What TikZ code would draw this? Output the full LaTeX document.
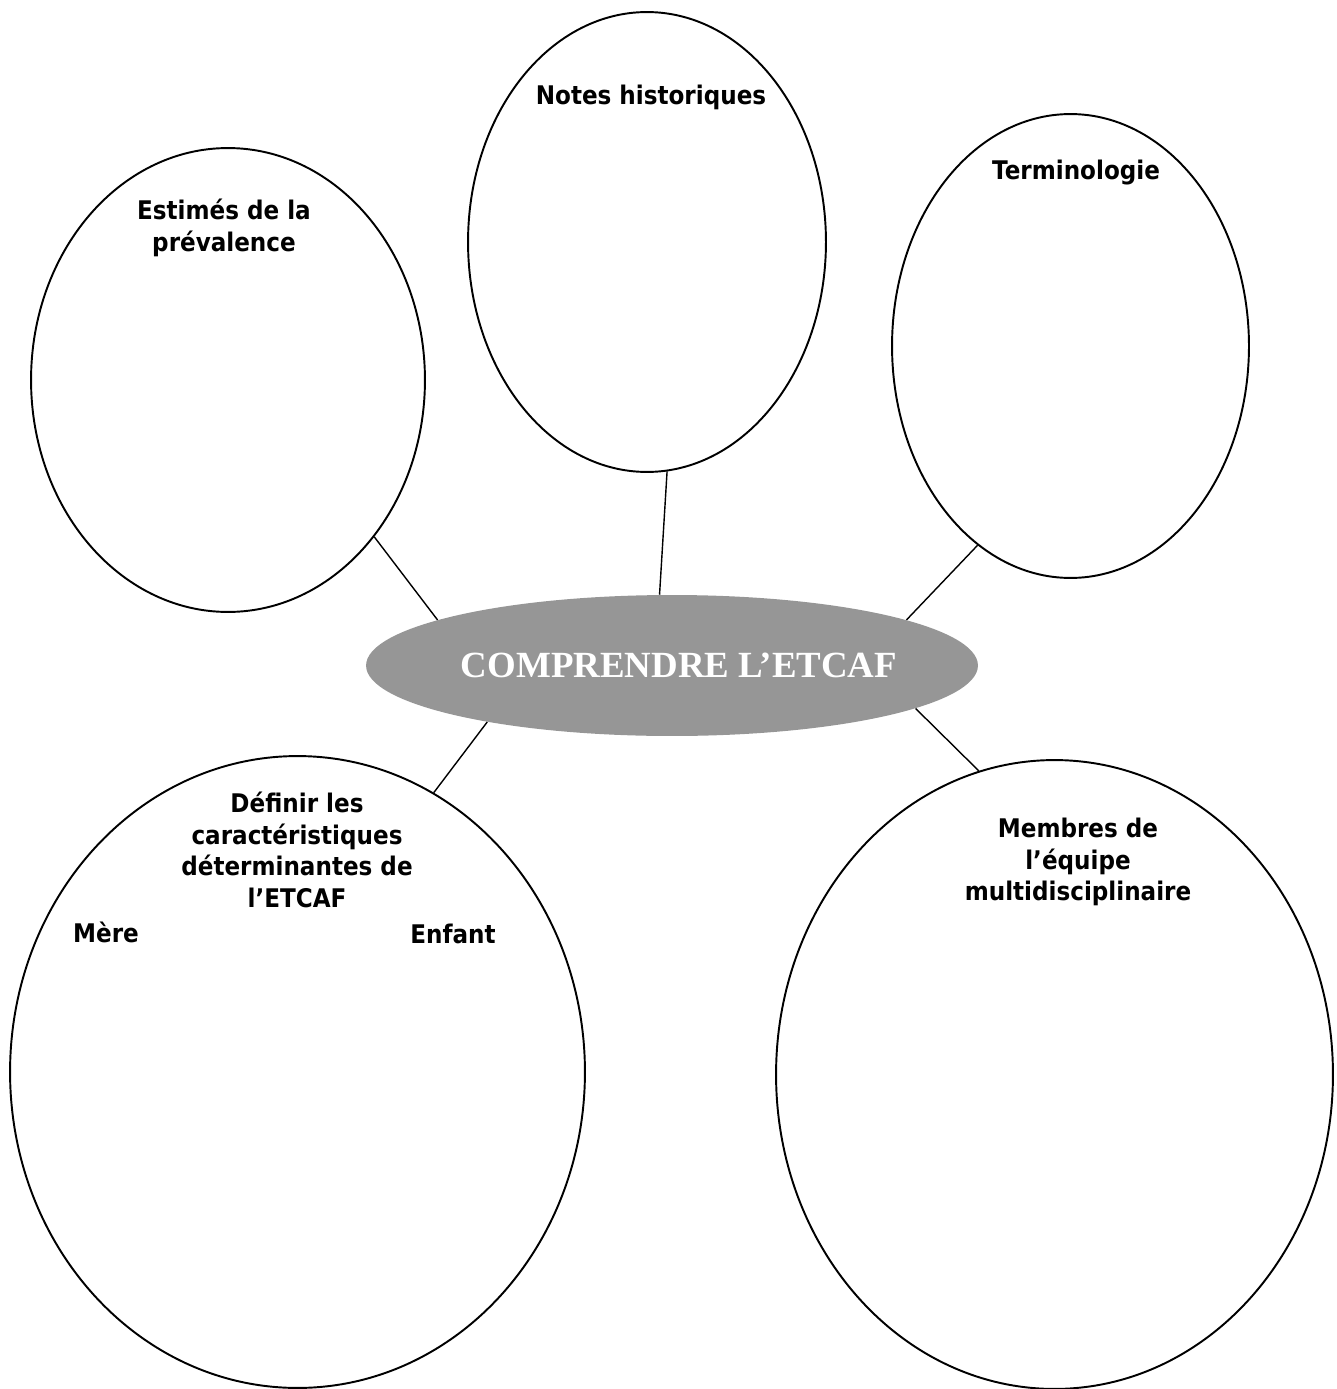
\documentclass[tikz,border=0pt]{standalone}
\usepackage{fontspec}
\setmainfont{Liberation Serif}
\newfontfamily\labelfont[FakeStretch=0.9]{DejaVu Sans}
\usetikzlibrary{shapes.geometric}

\tikzset{
  bubble/.style={draw, ellipse, line width=1.1pt, inner sep=0pt},
  bubtext/.style={font=\labelfont\bfseries\fontsize{14.6}{17.9}\selectfont, align=center, inner sep=0pt},
  link/.style={line width=0.8pt}
}

\begin{document}
\begin{tikzpicture}[x=0.02cm,y=-0.02cm]
\useasboundingbox (0,0) rectangle (1337,1389);
% the bubbles round the middle
\node[bubble, minimum width=7.88cm, minimum height=9.28cm] (prev) at (228,380) {};
\node[bubble, minimum width=7.16cm, minimum height=9.2cm] (hist) at (647,242) {};
\node[bubble, minimum width=7.14cm, minimum height=9.28cm] (term) at (1070.5,346) {};
\node[bubble, minimum width=11.5cm, minimum height=12.64cm] (defn) at (297.5,1072) {};
\node[bubble, minimum width=11.14cm, minimum height=12.58cm] (team) at (1054.5,1074.5) {};
\node[ellipse, fill={rgb,255:red,150;green,150;blue,150}, inner sep=0pt,
      minimum width=12.24cm, minimum height=2.82cm] (core) at (672,665.5) {};
\node[text=white, inner sep=0pt, font=\bfseries\fontsize{21}{25}\selectfont] (coretxt) at (679,665) {COMPRENDRE L’ETCAF};
% titles
\node[bubtext] (prevtxt) at (224,228) {Estimés de la\\prévalence};
\node[bubtext] (histtxt) at (651,97) {Notes historiques};
\node[bubtext] (termtxt) at (1076,173) {Terminologie};
\node[bubtext] (defntxt) at (297,850) {Définir les\\caractéristiques\\déterminantes de\\l’ETCAF};
\node[bubtext] (mere) at (106,932) {Mère};
\node[bubtext] (enfant) at (453,934) {Enfant};
\node[bubtext] (teamtxt) at (1078,862) {Membres de\\l’équipe\\multidisciplinaire};
% links
\draw[link] (prev.-47.8) -- (core.169.3);
\draw[link] (hist.-85.8) -- (core.100);
\draw[link] (term.-115.7) -- (core.11.1);
\draw[link] (core.-163.9) -- (defn.64.7);
\draw[link] (core.-10.7) -- (team.104.6);
\end{tikzpicture}
\end{document}
